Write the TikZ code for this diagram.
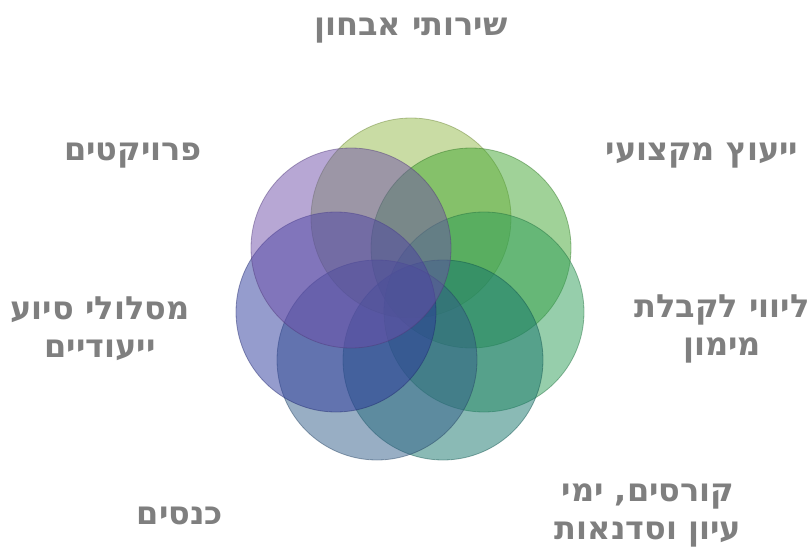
\documentclass[tikz,border=0pt]{standalone}
\usepackage{fontspec}
\newfontfamily\hebfont[Script=Hebrew]{DejaVu Sans}
\TeXXeTstate=1
\definecolor{cA}{RGB}{148,186,73}
\definecolor{cB}{RGB}{66,166,50}
\definecolor{cC}{RGB}{46,157,88}
\definecolor{cD}{RGB}{22,117,108}
\definecolor{cE}{RGB}{50,93,137}
\definecolor{cF}{RGB}{44,57,155}
\definecolor{cG}{RGB}{111,80,170}
\definecolor{txt}{RGB}{127,127,127}
\tikzset{
  ring/.style={circle, minimum size=200pt, inner sep=0pt, fill=#1, fill opacity=0.5, draw=#1!70!black, draw opacity=0.45, line width=0.8pt},
  lbl/.style={text=txt, font=\hebfont\bfseries\fontsize{32}{38}\selectfont, align=center, inner sep=0pt}
}
\begin{document}
\begin{tikzpicture}[x=1pt,y=-1pt]
\useasboundingbox (0,0) rectangle (812,551);
\node[ring=cA] (c1) at (411,218) {};
\node[ring=cB] (c2) at (471,248) {};
\node[ring=cC] (c3) at (484,312) {};
\node[ring=cD] (c4) at (443,360) {};
\node[ring=cE] (c5) at (377,360) {};
\node[ring=cF] (c6) at (336,312) {};
\node[ring=cG] (c7) at (351,248) {};
\node[lbl] (t1) at (411,31) {\beginR שירותי אבחון\endR};
\node[lbl] (t2) at (702,155) {\beginR ייעוץ מקצועי\endR};
\node[lbl] (t3) at (722,329) {\beginR ליווי לקבלת\endR\\\beginR מימון\endR};
\node[lbl] (t4) at (648,515) {\beginR קורסים, ימי\endR\\\beginR עיון וסדנאות\endR};
\node[lbl] (t5) at (180,516) {\beginR כנסים\endR};
\node[lbl] (t6) at (100,329) {\beginR מסלולי סיוע\endR\\\beginR ייעודיים\endR};
\node[lbl] (t7) at (133,155) {\beginR פרויקטים\endR};
\end{tikzpicture}
\end{document}
